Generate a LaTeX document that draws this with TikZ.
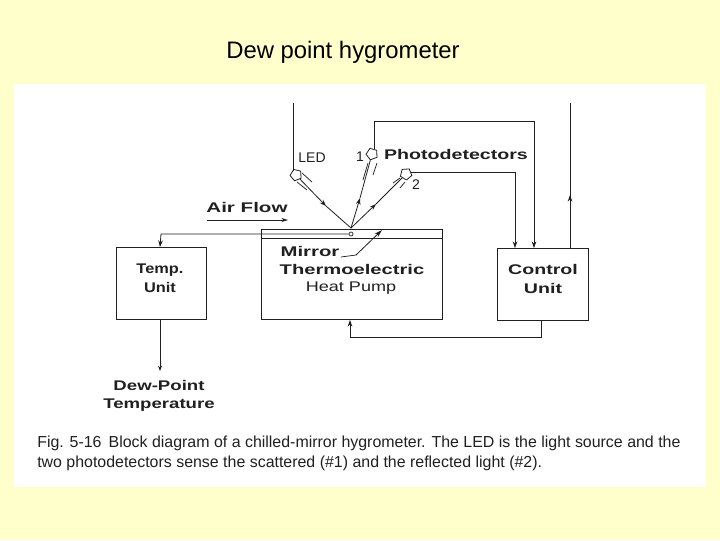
\documentclass[tikz,border=0pt]{standalone}
\usepackage{fontspec}
\setmainfont{Liberation Sans}
\usetikzlibrary{arrows.meta,shapes.geometric}
\definecolor{bgc}{HTML}{FFFFCC}
\definecolor{ink}{HTML}{202020}
\tikzset{
 px/.style={x=0.75pt,y=-0.75pt},
 wire/.style={draw=ink,line width=0.6pt},
 thin wire/.style={draw=ink,line width=0.55pt},
 arrowed/.style={wire,-{Stealth[length=5pt,width=3.5pt]}},
 block/.style={draw=ink,line width=0.65pt,fill=white,inner sep=0pt},
 wide/.style={font=\fontsize{10.5}{13}\selectfont\bfseries,text=ink,inner sep=0pt,align=center},
 plain/.style={font=\fontsize{10.5}{13}\selectfont,text=ink,inner sep=0pt,align=center},
 cap text/.style={font=\fontsize{11.95}{12}\selectfont,text=ink,inner sep=0pt,anchor=west},
 sensor/.style={draw=ink,line width=0.6pt,fill=white,regular polygon,regular polygon sides=5,inner sep=0pt,minimum size=9pt},
 dot/.style={circle,draw=ink,line width=0.5pt,fill=white,inner sep=0pt,minimum size=3pt},
}
\begin{document}
\begin{tikzpicture}[px]
\useasboundingbox (0,0) rectangle (720,540);
\fill[bgc] (0,0) rectangle (720,540);
\fill[white] (14,84) rectangle (706,487);
\node[font=\fontsize{17.9}{20}\selectfont,inner sep=0pt,text=black] (title) at (343,52) {Dew point hygrometer};

% blocks
\draw[block] (116,247) rectangle (206,319);
\node[wide,xscale=1.17] (temp) at (160,278) {Temp.\\[1pt]Unit};
\draw[block] (261,229) rectangle (442,319);
\draw[wire] (261,238) -- (442,238);
\node[wide,xscale=1.45] (mirror) at (310,251) {Mirror};
\node[wide,xscale=1.44] (thermo) at (352,269) {Thermoelectric};
\node[plain,xscale=1.29] (heat) at (351,288) {Heat Pump};
\draw[block] (497,248) rectangle (588,320);
\node[wide,xscale=1.4] (control) at (543,279) {Control\\[1pt]Unit};

% optics
\coordinate (mirrorpt) at (351,228);
\node[sensor,rotate=-50] (led) at (296,175) {};
\node[sensor,rotate=20] (det1) at (372,154) {};
\node[sensor,rotate=40] (det2) at (406,174) {};
\node[dot] (tsensor) at (351,234) {};
\draw[thin wire] (302,173) -- (312,182) (297,182) -- (307,190);
\draw[thin wire] (368,163) -- (363,180) (377,163) -- (373,175);
\draw[thin wire] (400,178) -- (393,183) (405,182) -- (400,188);
\draw[arrowed] (led) -- (326,206);
\draw[wire] (326,206) -- (mirrorpt);
\draw[arrowed] (mirrorpt) -- (360,198);
\draw[wire] (360,198) -- (det1);
\draw[arrowed] (mirrorpt) -- (376,204);
\draw[wire] (376,204) -- (det2);

% wires
\coordinate (ledtop) at (293,103);
\draw[wire] (ledtop) -- (293,171);
\draw[arrowed] (det1) ++(2,-5) -- (374,121) -- (534,121) -- (534,248);
\draw[arrowed] (det2) ++(5,-2) -- (515,172) -- (515,248);
\coordinate (rtop) at (570,103);
\draw[wire] (570,248) -- (rtop);
\draw[arrowed] (570,215) -- (570,195);
\draw[arrowed] (tsensor) -- (161,234) -- (160,247);
\draw[arrowed] (541,320) -- (541,337) -- (350,337) -- (350,320);
\draw[wire,-{Stealth[length=4pt,width=3pt]}] (160,319) -- (160,371);
\draw[thin wire,-{Stealth[length=5pt,width=3pt]}] (207,220) -- (288,220);
\draw[wire,-{Stealth[length=6pt,width=3.5pt]}] (356,255) -- (382,230);
\draw[thin wire] (341,257) -- (356,255);

% labels
\node[plain] (ledl) at (312,158) {LED};
\node[plain] (n1) at (360,157) {1};
\node[plain] (n2) at (416,185) {2};
\node[wide,xscale=1.4] (photo) at (456,154) {Photodetectors};
\node[wide,xscale=1.47] (air) at (247,207) {Air Flow};
\node[wide,xscale=1.33] (dew) at (159,396) {Dew-Point\\[1pt]Temperature};
\node[cap text] (c1) at (37,443) {Fig. 5-16\, Block diagram of a chilled-mirror hygrometer. The LED is the light source and the};
\node[cap text] (c2) at (37,463) {two photodetectors sense the scattered (\#1) and the reflected light (\#2).};
\end{tikzpicture}
\end{document}
